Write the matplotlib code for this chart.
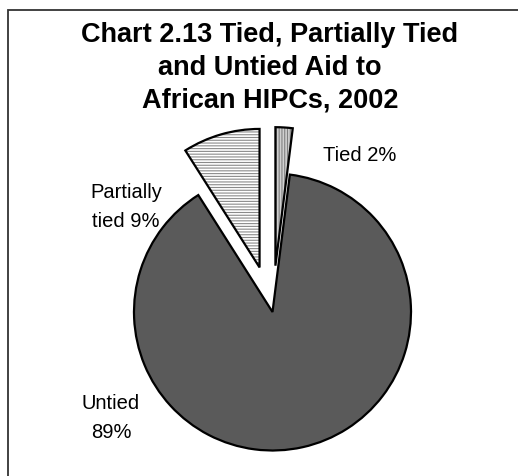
import matplotlib
matplotlib.use("Agg")
import matplotlib.pyplot as plt
from matplotlib.patches import Rectangle

# Data
categories = ["Tied", "Untied", "Partially tied"]
shares = [2, 89, 9]
label_texts = ["Tied 2%", "Untied\n89%", "Partially\ntied 9%"]
title_text = "Chart 2.13 Tied, Partially Tied\nand Untied Aid to\nAfrican HIPCs, 2002"

W, H = 518, 477
fig = plt.figure(figsize=(W / 100, H / 100), dpi=100)
fig.patch.set_facecolor("white")

# frame (left and top visible, cropped at right/bottom)
fig.add_artist(Rectangle((7.5 / W, -0.1), (W + 20) / W, (H - 11) / H + 0.1,
                         transform=fig.transFigure, fill=False,
                         edgecolor="#333333", linewidth=1.3))

ax = fig.add_axes([0, 0, 1, 1])

center = (272.5, H - 313)
radius = 138.5
explode_frac = [0.335, 0.0, 0.335]
explode = [f * radius for f in explode_frac]  # pie explode is in data units
faces = ["#d0d0d0", "#5a5a5a", "white"]
hatches = ["||||||", "", "------"]
hatch_cols = ["#808080", "#5a5a5a", "#8a8a8a"]

plt.rcParams["hatch.linewidth"] = 0.8

# fill + hatch layer
wedges, _ = ax.pie(shares, explode=explode, startangle=90, counterclock=False,
                   center=center, radius=radius, frame=True)
for w, fc, h, hc in zip(wedges, faces, hatches, hatch_cols):
    w.set_facecolor(fc)
    w.set_hatch(h)
    w.set_edgecolor(hc)
    w.set_linewidth(0)
# outline layer
ax.pie(shares, explode=explode, startangle=90, counterclock=False,
       center=center, radius=radius, frame=True,
       wedgeprops=dict(facecolor="none", edgecolor="black", linewidth=1.6))
ax.set_xlim(0, W)
ax.set_ylim(0, H)
ax.set_aspect("equal")
ax.axis("off")

font = "Liberation Sans"
fig.text(270 / W, 1 - 68 / H, title_text, ha="center", va="center",
         fontsize=19.5, fontweight="bold", family=font, linespacing=1.35)

label_pos = [(360, 156), (111, 418), (126, 207)]
for txt, (x, y) in zip(label_texts, label_pos):
    fig.text(x / W, 1 - y / H, txt, ha="center", va="center",
             fontsize=14.5, family=font, linespacing=1.7)

fig.savefig("out.png", dpi=100)
